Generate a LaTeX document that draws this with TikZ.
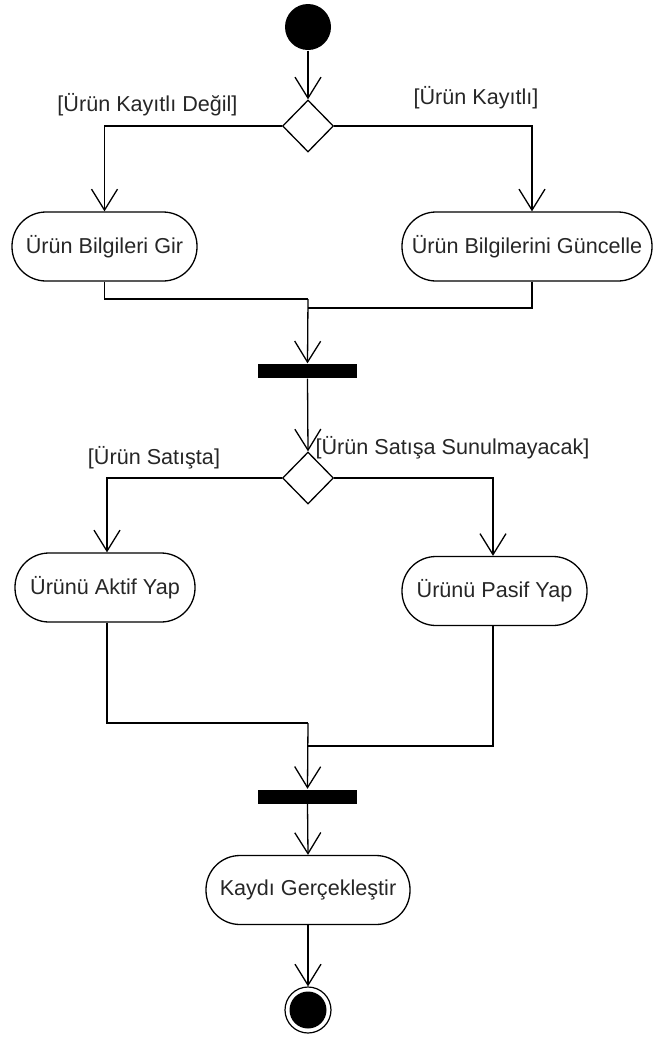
\documentclass[tikz,border=0pt]{standalone}
\usepackage{fontspec}
\setmainfont{Liberation Sans}
\usetikzlibrary{arrows.meta,shapes.geometric,calc}
\begin{document}
\begin{tikzpicture}[x=1pt,y=-1pt,
  line width=1.3pt,
  every node/.style={font=\fontsize{21.6}{25}\selectfont, text=black!85},
  act/.style={draw, rounded corners=34pt, minimum height=69pt, inner sep=0pt},
  dec/.style={draw, diamond, minimum width=51pt, minimum height=52pt, inner sep=0pt, fill=white},
  bar/.style={fill=black, draw=none, minimum width=99pt, minimum height=14pt, inner sep=0pt},
  guard/.style={inner sep=0pt},
  flow/.style={-{Straight Barb[length=21pt,width=26pt]}}
]
\useasboundingbox (0,0) rectangle (653,1037);
% nodes
\node[circle, fill=black, minimum size=46pt, inner sep=0pt] (start) at (308,27) {};
\node[dec] (d1) at (308,126) {};
\node[act, minimum width=185pt] (b1) at (104.5,246.5) {Ürün Bilgileri Gir};
\node[act, minimum width=250pt] (b2) at (527,246.5) {Ürün Bilgilerini Güncelle};
\node[bar] (bar1) at (307.5,371) {};
\node[dec] (d2) at (308,478) {};
\node[act, minimum width=180pt] (b3) at (105,587.5) {Ürünü Aktif Yap};
\node[act, minimum width=185pt] (b4) at (494.5,591) {Ürünü Pasif Yap};
\node[bar] (bar2) at (307.5,796.5) {};
\node[act, minimum width=204pt] (b5) at (308,890) {Kaydı Gerçekleştir};
\node[circle, draw, minimum size=46pt, inner sep=0pt, line width=1.2pt] (end) at (308,1010) {};
\node[circle, fill=black, minimum size=37pt, inner sep=0pt] (endin) at (308,1010) {};
% guards
\node[guard] (g1) at (147.5,105) {[Ürün Kayıtlı Değil]};
\node[guard] (g2) at (476,98) {[Ürün Kayıtlı]};
\node[guard] (g3) at (154,458) {[Ürün Satışta]};
\node[guard] (g4) at (452.5,448) {[Ürün Satışa Sunulmayacak]};
% coordinates
\coordinate (b2in) at ($(b2.north)+(5,0)$);
\coordinate (b2out) at ($(b2.south)+(5,0)$);
\coordinate (m1) at (308,299);
\coordinate (m1b) at (308,308);
\coordinate (b3in) at ($(b3.north)+(2,0)$);
\coordinate (b3out) at ($(b3.south)+(2,0)$);
\coordinate (b4in) at ($(b4.north)+(-1.5,0)$);
\coordinate (b4out) at ($(b4.south)+(-1.5,0)$);
\coordinate (m2) at (308,723);
\coordinate (m2b) at (308,746);
% connectors
\draw[flow] (start) -- (d1.north);
\draw[flow] (d1.west) -| (b1.north);
\draw[flow] (d1.east) -| (b2in);
\draw (b1.south) |- (m1);
\draw (b2out) |- (m1b);
\draw[flow] (m1) -- (bar1.north);
\draw[flow] (bar1.south) -- (d2.north);
\draw[flow] (d2.west) -| (b3in);
\draw[flow] (d2.east) -| (b4in);
\draw (b3out) |- (m2);
\draw (b4out) |- (m2b);
\draw[flow] (m2) -- (bar2.north);
\draw[flow] (bar2.south) -- (b5.north);
\draw[flow] (b5.south) -- (end.north);
\end{tikzpicture}
\end{document}
